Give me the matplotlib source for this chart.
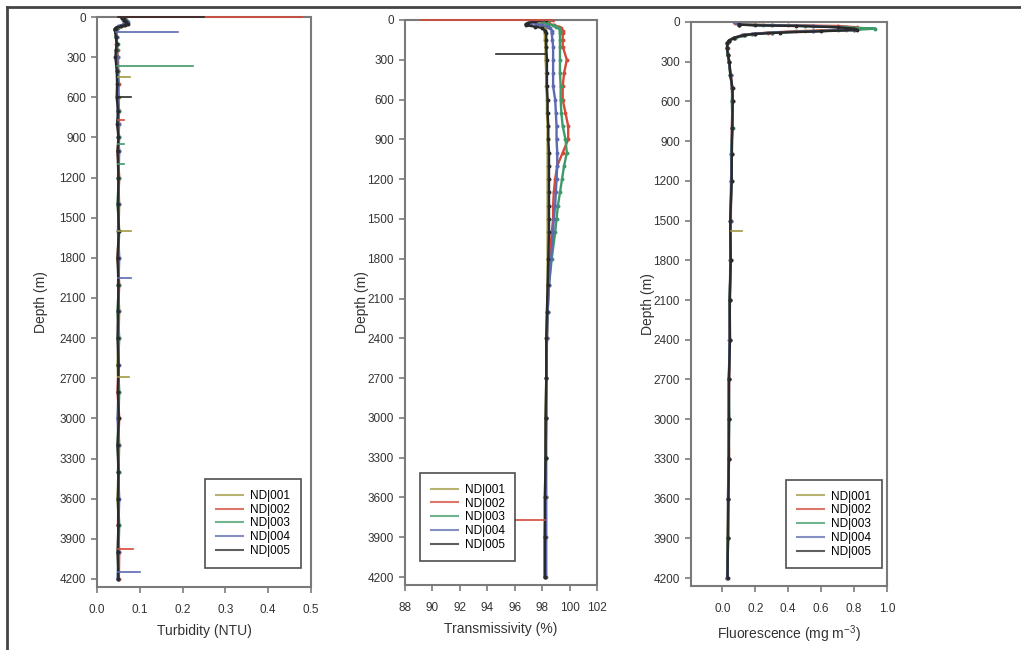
import numpy as np
import matplotlib
matplotlib.use("Agg")
import matplotlib.pyplot as plt
from matplotlib.lines import Line2D

plt.rcParams['font.family'] = ['Liberation Sans', 'DejaVu Sans']

series = ["ND|001", "ND|002", "ND|003", "ND|004", "ND|005"]
colors = ["#a09a40", "#d44a3a", "#3f9a6a", "#5c6ab0", "#2a2a2a"]

depth_ticks = list(range(0, 4201, 300))

# ---------------- Turbidity ----------------
turb_depth = [0, 10, 20, 30, 40, 50, 60, 70, 80, 90, 100, 150, 200, 250, 300, 400, 500, 600, 700, 800,
              900, 1000, 1200, 1400, 1600, 1800, 2000, 2200, 2400, 2600, 2800, 3000, 3200, 3400, 3600,
              3800, 4000, 4200]
turb_nd001 = [0.060, 0.066, 0.062, 0.068, 0.070, 0.064, 0.060, 0.052, 0.046, 0.044, 0.043, 0.045, 0.047,
              0.046, 0.049, 0.050, 0.048, 0.051, 0.049, 0.052, 0.050, 0.051, 0.049, 0.052, 0.050, 0.051,
              0.049, 0.052, 0.050, 0.048, 0.051, 0.049, 0.052, 0.050, 0.048, 0.051, 0.049, 0.050]
turb_nd002 = [0.058, 0.062, 0.068, 0.064, 0.066, 0.070, 0.062, 0.055, 0.048, 0.045, 0.044, 0.046, 0.045,
              0.048, 0.047, 0.049, 0.051, 0.048, 0.052, 0.049, 0.051, 0.048, 0.052, 0.049, 0.051, 0.048,
              0.052, 0.049, 0.051, 0.050, 0.048, 0.052, 0.049, 0.051, 0.050, 0.049, 0.052, 0.051]
turb_nd003 = [0.056, 0.064, 0.060, 0.070, 0.066, 0.068, 0.064, 0.054, 0.047, 0.043, 0.045, 0.044, 0.048,
              0.047, 0.046, 0.048, 0.050, 0.049, 0.051, 0.048, 0.052, 0.050, 0.051, 0.048, 0.052, 0.049,
              0.051, 0.048, 0.052, 0.049, 0.052, 0.050, 0.048, 0.051, 0.049, 0.052, 0.050, 0.049]
turb_nd004 = [0.062, 0.060, 0.066, 0.062, 0.072, 0.066, 0.058, 0.050, 0.045, 0.042, 0.044, 0.046, 0.046,
              0.045, 0.048, 0.047, 0.049, 0.050, 0.048, 0.051, 0.049, 0.052, 0.050, 0.051, 0.049, 0.052,
              0.050, 0.051, 0.049, 0.051, 0.050, 0.048, 0.051, 0.049, 0.052, 0.050, 0.051, 0.048]
turb_nd005 = [0.064, 0.058, 0.064, 0.066, 0.068, 0.072, 0.066, 0.056, 0.044, 0.041, 0.042, 0.044, 0.046,
              0.044, 0.043, 0.046, 0.047, 0.046, 0.049, 0.047, 0.050, 0.048, 0.050, 0.049, 0.051, 0.048,
              0.050, 0.049, 0.048, 0.050, 0.049, 0.051, 0.048, 0.050, 0.049, 0.050, 0.048, 0.050]
turb_values = [turb_nd001, turb_nd002, turb_nd003, turb_nd004, turb_nd005]

# spikes: series index, depth, start value, tip value
turb_spike_series = [1, 4, 3, 2, 0, 4, 1, 2, 2, 0, 3, 0, 1, 3]
turb_spike_depth = [0, 0, 112, 366, 450, 600, 770, 950, 1100, 1600, 1950, 2690, 3975, 4150]
turb_spike_start = [0.05, 0.05, 0.045, 0.047, 0.05, 0.046, 0.05, 0.05, 0.05, 0.05, 0.05, 0.05, 0.05, 0.05]
turb_spike_tip = [0.48, 0.25, 0.19, 0.225, 0.076, 0.08, 0.064, 0.062, 0.063, 0.08, 0.08, 0.075, 0.085, 0.10]

# ---------------- Transmissivity ----------------
tr_depth = [0, 10, 20, 30, 40, 50, 60, 80, 100, 150, 200, 300, 400, 500, 600, 700, 800, 900, 1000, 1100,
            1200, 1300, 1400, 1500, 1600, 1800, 2000, 2200, 2400, 2700, 3000, 3300, 3600, 3900, 4200]
tr_nd001 = [98.0, 97.8, 97.5, 97.8, 98.0, 98.1, 98.2, 98.2, 98.2, 98.2, 98.25, 98.25, 98.3, 98.3, 98.35,
            98.35, 98.4, 98.4, 98.4, 98.4, 98.4, 98.4, 98.4, 98.4, 98.4, 98.4, 98.4, 98.35, 98.3, 98.3,
            98.25, 98.25, 98.2, 98.2, 98.2]
tr_nd002 = [98.8, 98.5, 98.3, 98.5, 98.9, 99.2, 99.4, 99.5, 99.5, 99.5, 99.5, 99.8, 99.6, 99.5, 99.5,
            99.7, 99.9, 99.9, 99.5, 99.1, 98.95, 98.85, 98.8, 98.8, 98.7, 98.55, 98.45, 98.4, 98.35, 98.3,
            98.3, 98.25, 98.25, 98.2, 98.2]
tr_nd003 = [98.5, 98.2, 98.0, 98.4, 98.8, 99.0, 99.2, 99.3, 99.3, 99.3, 99.3, 99.3, 99.3, 99.35, 99.35,
            99.4, 99.5, 99.7, 99.8, 99.6, 99.45, 99.3, 99.15, 99.05, 98.95, 98.7, 98.5, 98.4, 98.35, 98.3,
            98.3, 98.25, 98.25, 98.2, 98.2]
tr_nd004 = [98.0, 97.5, 97.2, 97.6, 98.0, 98.4, 98.6, 98.7, 98.7, 98.75, 98.8, 98.8, 98.8, 98.8, 98.95,
            99.0, 99.05, 99.05, 99.1, 99.1, 99.05, 99.0, 98.95, 98.85, 98.8, 98.65, 98.5, 98.4, 98.35, 98.3,
            98.3, 98.3, 98.3, 98.3, 98.3]
tr_nd005 = [98.3, 97.5, 97.0, 96.8, 96.8, 97.5, 98.0, 98.2, 98.3, 98.3, 98.3, 98.35, 98.35, 98.35, 98.4,
            98.4, 98.45, 98.45, 98.5, 98.5, 98.5, 98.5, 98.5, 98.5, 98.5, 98.45, 98.4, 98.35, 98.3, 98.3,
            98.25, 98.25, 98.2, 98.2, 98.2]
tr_values = [tr_nd001, tr_nd002, tr_nd003, tr_nd004, tr_nd005]

tr_spike_series = [1, 4, 1]
tr_spike_depth = [0, 255, 3770]
tr_spike_start = [98.8, 98.3, 98.2]
tr_spike_tip = [89.2, 94.6, 96.1]

# ---------------- Fluorescence ----------------
fl_depth = [0, 10, 20, 25, 30, 40, 50, 60, 70, 80, 90, 100, 120, 140, 160, 200, 250, 300, 400, 500, 600,
            800, 1000, 1200, 1500, 1800, 2100, 2400, 2700, 3000, 3300, 3600, 3900, 4200]
fl_nd001 = [0.08, 0.09, 0.10, 0.30, 0.55, 0.75, 0.80, 0.75, 0.50, 0.30, 0.20, 0.14, 0.08, 0.04, 0.03,
            0.03, 0.035, 0.04, 0.05, 0.06, 0.06, 0.06, 0.055, 0.055, 0.05, 0.05, 0.045, 0.045, 0.04,
            0.04, 0.04, 0.035, 0.035, 0.03]
fl_nd002 = [0.07, 0.08, 0.10, 0.40, 0.70, 0.82, 0.80, 0.70, 0.45, 0.28, 0.18, 0.12, 0.07, 0.04, 0.03,
            0.032, 0.037, 0.042, 0.052, 0.058, 0.062, 0.058, 0.057, 0.053, 0.052, 0.048, 0.047, 0.043,
            0.042, 0.038, 0.041, 0.036, 0.034, 0.031]
fl_nd003 = [0.08, 0.09, 0.10, 0.25, 0.50, 0.75, 0.93, 0.80, 0.55, 0.30, 0.20, 0.14, 0.08, 0.04, 0.03,
            0.028, 0.033, 0.041, 0.048, 0.061, 0.058, 0.062, 0.053, 0.056, 0.049, 0.052, 0.044, 0.046,
            0.039, 0.042, 0.038, 0.036, 0.033, 0.029]
fl_nd004 = [0.08, 0.09, 0.10, 0.30, 0.55, 0.70, 0.78, 0.80, 0.55, 0.30, 0.18, 0.12, 0.07, 0.04, 0.03,
            0.031, 0.036, 0.039, 0.051, 0.059, 0.061, 0.059, 0.056, 0.054, 0.051, 0.049, 0.046, 0.044,
            0.041, 0.039, 0.039, 0.034, 0.036, 0.030]
fl_nd005 = [0.10, 0.10, 0.10, 0.20, 0.45, 0.70, 0.80, 0.82, 0.60, 0.35, 0.20, 0.13, 0.07, 0.04, 0.03,
            0.029, 0.034, 0.043, 0.049, 0.062, 0.063, 0.061, 0.058, 0.057, 0.048, 0.051, 0.045, 0.047,
            0.040, 0.041, 0.040, 0.037, 0.034, 0.032]
fl_values = [fl_nd001, fl_nd002, fl_nd003, fl_nd004, fl_nd005]

fl_spike_series = [0]
fl_spike_depth = [1577]
fl_spike_start = [0.05]
fl_spike_tip = [0.12]

# ---------------- Figure ----------------
W, H = 1021, 650
fig = plt.figure(figsize=(W / 100, H / 100), dpi=100)

def frac(l, r, t, b):
    return [l / W, (H - b) / H, (r - l) / W, (b - t) / H]

spine_col = "#7a7a7a"
text_col = "#333333"

panels = [
    dict(rect=frac(97, 311, 17, 587), xlim=(0, 0.5), xticks=[0.0, 0.1, 0.2, 0.3, 0.4, 0.5],
         xfmt="{:.1f}", xlabel="Turbidity (NTU)", depth=turb_depth, vals=turb_values,
         sp=(turb_spike_series, turb_spike_depth, turb_spike_start, turb_spike_tip),
         leg=(0.505, 0.189), ypad=8),
    dict(rect=frac(405, 597, 20, 585), xlim=(88, 102), xticks=list(range(88, 103, 2)),
         xfmt="{:d}", xlabel="Transmissivity (%)", depth=tr_depth, vals=tr_values,
         sp=(tr_spike_series, tr_spike_depth, tr_spike_start, tr_spike_tip),
         leg=(0.078, 0.198), ypad=-1),
    dict(rect=frac(691, 887, 22, 586), xlim=(-0.19, 1.0), xticks=[0.0, 0.2, 0.4, 0.6, 0.8, 1.0],
         xfmt="{:.1f}", xlabel="Fluorescence (mg m$^{\\mathregular{-3}}$)", depth=fl_depth, vals=fl_values,
         sp=(fl_spike_series, fl_spike_depth, fl_spike_start, fl_spike_tip),
         leg=(0.485, 0.188), ypad=-1),
]

for p in panels:
    ax = fig.add_axes(p["rect"])
    for i, v in enumerate(p["vals"]):
        ax.plot(v, p["depth"], color=colors[i], lw=1.7, marker='o', ms=1.8, zorder=2 + i * 0.1)
    s_ser, s_dep, s_st, s_tip = p["sp"]
    for k in range(len(s_ser)):
        ax.plot([s_st[k], s_tip[k]], [s_dep[k], s_dep[k]], color=colors[s_ser[k]], lw=1.2,
                zorder=3 + s_ser[k] * 0.1, clip_on=False)
    ax.set_xlim(*p["xlim"])
    ax.set_ylim(4260, 0)
    ax.set_yticks(depth_ticks)
    ax.set_xticks(p["xticks"])
    ax.set_xticklabels([p["xfmt"].format(t) for t in p["xticks"]])
    ax.tick_params(direction='out', length=4, width=1.2, colors=spine_col, labelcolor=text_col,
                   labelsize=8.5, pad=8)
    ax.tick_params(axis='y', pad=4)
    for s in ax.spines.values():
        s.set_color(spine_col)
        s.set_linewidth(1.5)
    ax.set_ylabel("Depth (m)", fontsize=10, color=text_col, labelpad=p["ypad"])
    ax.set_xlabel(p["xlabel"], fontsize=10, color=text_col, labelpad=6)
    handles = [Line2D([0], [0], color=colors[i], lw=1.5, alpha=0.75) for i in range(5)]
    leg = ax.legend(handles, series, loc='upper left', bbox_to_anchor=p["leg"], fontsize=8.5,
                    frameon=True, fancybox=False, edgecolor="#222222", handlelength=2.3,
                    labelspacing=0.15, borderpad=0.9, handletextpad=0.6, borderaxespad=0)
    leg.get_frame().set_linewidth(1.2)

# outer frame (top and left edges)
fig.add_artist(Line2D([7 / W, 1.0], [1 - 7 / H, 1 - 7 / H], color="#444444", lw=2,
                      transform=fig.transFigure))
fig.add_artist(Line2D([7 / W, 7 / W], [0, 1 - 7 / H], color="#444444", lw=2,
                      transform=fig.transFigure))

fig.savefig("out.png", dpi=100)
